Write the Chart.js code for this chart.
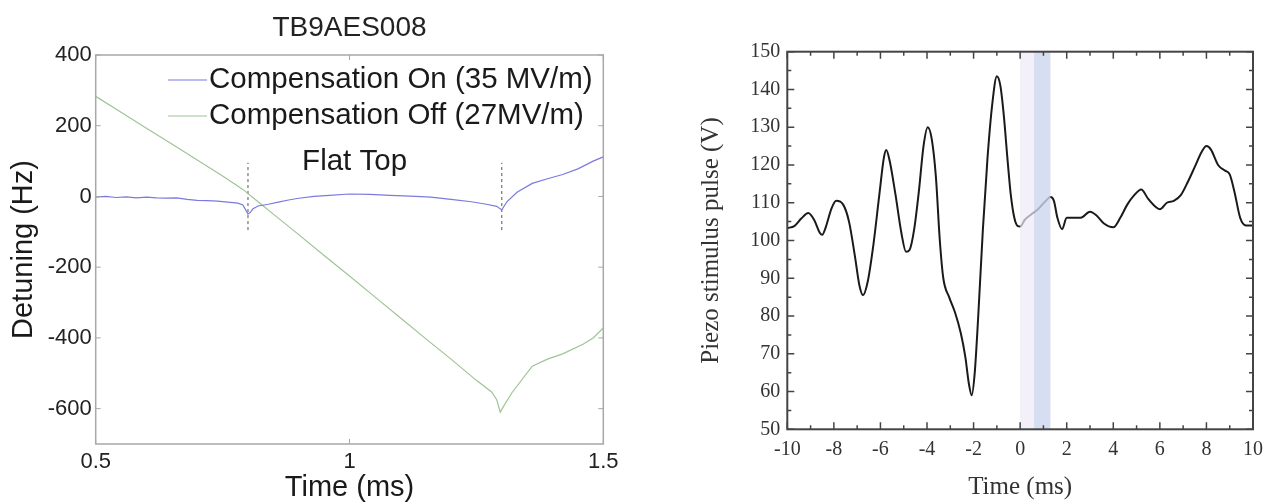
<!DOCTYPE html>
<html>
<head>
<meta charset="utf-8">
<title>Detuning and piezo stimulus pulse</title>
<script src="https://cdn.jsdelivr.net/npm/chart.js@4.4.1/dist/chart.umd.min.js"></script>
<style>
  html, body { margin: 0; padding: 0; background: #fff; }
  #wrap { width: 1271px; height: 504px; display: flex; }
  canvas { display: block; }
</style>
</head>
<body>
<div id="wrap">
  <canvas id="detuningChart" width="640" height="504"></canvas>
  <canvas id="piezoChart" width="631" height="504"></canvas>
</div>
<script>
// left panel: cavity detuning (Hz) vs time (ms)
var compOnTime = [0.50, 0.52, 0.54, 0.56, 0.58, 0.60, 0.62, 0.64, 0.66, 0.68, 0.70, 0.72, 0.74, 0.76, 0.78, 0.79,
  0.80, 0.805, 0.81, 0.82, 0.84, 0.86, 0.88, 0.90, 0.93, 0.96, 1.00, 1.04, 1.08, 1.12, 1.16, 1.20, 1.24, 1.27,
  1.29, 1.30, 1.31, 1.33, 1.36, 1.39, 1.42, 1.45, 1.48, 1.50];
var compOnHz = [-2, 0, -3, -1, -4, -2, -4, -5, -4, -8, -11, -12, -13, -16, -19, -24,
  -50, -44, -35, -27, -22, -16, -10, -5, 0, 3, 7, 6, 3, 1, -2, -8, -15, -22,
  -28, -38, -15, 12, 37, 50, 62, 78, 100, 112];
var compOffTime = [0.50, 0.55, 0.60, 0.65, 0.70, 0.75, 0.79, 0.80, 0.82, 0.85, 0.90, 0.95, 1.00, 1.05, 1.10,
  1.15, 1.20, 1.25, 1.28, 1.29, 1.297, 1.305, 1.32, 1.36, 1.39, 1.42, 1.46, 1.48, 1.50];
var compOffHz = [283, 238, 193, 148, 103, 58, 20, 8, -15, -50, -108, -167, -225, -284, -343,
  -402, -460, -520, -553, -575, -610, -590, -555, -480, -460, -445, -418, -400, -372];
var flatTopEdges = [0.8, 1.3];
var flatTopMarkerHz = [-95, 95];
var flatTopLabelAt = [1.01, 97];
var detuningTimeTicks = [0.5, 1, 1.5];
var detuningHzTicks = [400, 200, 0, -200, -400, -600];

// right panel: piezo stimulus pulse (V) vs time (ms)
var piezoTime = [-10.0, -9.7, -9.4, -9.1, -8.85, -8.6, -8.5, -8.35, -8.1, -7.9, -7.6, -7.35, -7.1, -6.9, -6.75,
  -6.55, -6.3, -6.05, -5.85, -5.75, -5.6, -5.35, -5.1, -4.9, -4.75, -4.55, -4.35, -4.15, -3.97, -3.8, -3.62,
  -3.45, -3.3, -3.05, -2.8, -2.55, -2.35, -2.2, -2.08, -1.95, -1.8, -1.6, -1.4, -1.2, -1.0, -0.85, -0.7,
  -0.55, -0.4, -0.25, -0.1, 0.0, 0.2, 0.5, 0.8, 1.1, 1.3, 1.45, 1.6, 1.8, 2.0, 2.3, 2.6, 3.0, 3.3, 3.6,
  4.0, 4.3, 4.6, 4.9, 5.2, 5.5, 5.8, 6.0, 6.3, 6.6, 6.9, 7.2, 7.5, 7.8, 8.0, 8.2, 8.5, 8.8, 9.0, 9.2,
  9.45, 9.7, 10.0];
var piezoVolts = [103.3, 103.8, 105.8, 107.3, 105.5, 102, 101.5, 103.5, 108.5, 110.5, 109.5, 105, 96, 88, 85.5,
  89, 99, 112, 122, 124, 121, 112, 102, 97, 97.5, 103, 113, 125, 130, 127, 117,
  100, 90, 85, 81, 75.5, 69, 62, 59, 65, 80, 103, 122, 136, 143.5, 141, 133,
  122, 112, 106, 103.8, 103.7, 105.5, 107, 108.5, 110.5, 111.5, 110.5, 106, 103, 106, 106, 106, 107.6, 106.5, 104.5,
  103.5, 106, 109.5, 112, 113.5, 111, 109, 108.3, 110, 110.5, 112, 115.5, 119.5, 123.5, 125, 124, 120, 118.5, 117.5, 113,
  106, 104, 104];
var piezoTimeTicks = [-10, -8, -6, -4, -2, 0, 2, 4, 6, 8, 10];
var piezoVoltTicks = [50, 60, 70, 80, 90, 100, 110, 120, 130, 140, 150];
var rfPulseLight = [0, 0.6];
var rfPulseDark = [0.6, 1.3];

function toPoints(xs, ys) {
  return xs.map(function(x, i) { return {x: x, y: ys[i]}; });
}

function fixedTicks(values) {
  return function(scale) {
    scale.ticks = values.map(function(v) { return {value: v}; });
  };
}

// box frame with inward ticks on all four sides
var boxTicks = {
  id: 'boxTicks',
  afterDraw: function(chart, args, o) {
    var a = chart.chartArea, ctx = chart.ctx;
    var xs = chart.scales.x, ys = chart.scales.y;
    ctx.save();
    ctx.strokeStyle = o.color;
    ctx.lineWidth = o.tickWidth;
    ctx.beginPath();
    function xTick(v, len) {
      var px = xs.getPixelForValue(v);
      ctx.moveTo(px, a.bottom); ctx.lineTo(px, a.bottom - len);
      ctx.moveTo(px, a.top); ctx.lineTo(px, a.top + len);
    }
    function yTick(v, len) {
      var py = ys.getPixelForValue(v);
      ctx.moveTo(a.left, py); ctx.lineTo(a.left + len, py);
      ctx.moveTo(a.right, py); ctx.lineTo(a.right - len, py);
    }
    var v;
    if (o.xMinorStep) {
      for (v = xs.min; v <= xs.max + 1e-9; v += o.xMinorStep) xTick(v, o.minor);
    }
    if (o.yMinorStep) {
      for (v = ys.min; v <= ys.max + 1e-9; v += o.yMinorStep) yTick(v, o.minor);
    }
    xs.ticks.forEach(function(t) { xTick(t.value, o.major); });
    ys.ticks.forEach(function(t) { yTick(t.value, o.major); });
    ctx.stroke();
    ctx.lineWidth = o.frameWidth;
    ctx.strokeRect(a.left, a.top, a.right - a.left, a.bottom - a.top);
    ctx.restore();
  }
};

// legend drawn inside the plot, matlab style
var insetLegend = {
  id: 'insetLegend',
  afterDraw: function(chart, args, o) {
    var a = chart.chartArea, ctx = chart.ctx;
    ctx.save();
    ctx.font = o.font;
    ctx.textBaseline = 'middle';
    ctx.textAlign = 'left';
    o.items.forEach(function(idx, i) {
      var ds = chart.data.datasets[idx];
      var x = a.left + o.left;
      var y = a.top + o.top + i * o.rowGap;
      ctx.strokeStyle = ds.borderColor;
      ctx.lineWidth = 1.2;
      ctx.beginPath();
      ctx.moveTo(x - o.sample - 2, y);
      ctx.lineTo(x - 2, y);
      ctx.stroke();
      ctx.fillStyle = o.color;
      ctx.fillText(ds.label, x, y);
    });
    ctx.restore();
  }
};

// title centred over the plot box rather than the whole canvas
var boxTitle = {
  id: 'boxTitle',
  afterDraw: function(chart, args, o) {
    var a = chart.chartArea, ctx = chart.ctx;
    ctx.save();
    ctx.font = o.font;
    ctx.fillStyle = o.color;
    ctx.textAlign = 'center';
    ctx.textBaseline = 'middle';
    ctx.fillText(o.text, (a.left + a.right) / 2, o.y);
    ctx.restore();
  }
};

var flatTopText = {
  id: 'flatTopText',
  afterDatasetsDraw: function(chart, args, o) {
    var ctx = chart.ctx;
    ctx.save();
    ctx.font = o.font;
    ctx.fillStyle = o.color;
    ctx.textAlign = 'center';
    ctx.textBaseline = 'middle';
    ctx.fillText(o.text, chart.scales.x.getPixelForValue(flatTopLabelAt[0]),
      chart.scales.y.getPixelForValue(flatTopLabelAt[1]));
    ctx.restore();
  }
};

// shaded rf pulse window
var pulseBand = {
  id: 'pulseBand',
  afterDatasetsDraw: function(chart, args, o) {
    var a = chart.chartArea, ctx = chart.ctx, xs = chart.scales.x;
    ctx.save();
    [[rfPulseLight, o.light], [rfPulseDark, o.dark]].forEach(function(b) {
      var x0 = xs.getPixelForValue(b[0][0]), x1 = xs.getPixelForValue(b[0][1]);
      ctx.fillStyle = b[1];
      ctx.fillRect(x0, a.top, x1 - x0, a.bottom - a.top);
    });
    ctx.restore();
  }
};

var sans = "'Liberation Sans', Arial, sans-serif";
var serif = "'Liberation Serif', 'Times New Roman', serif";

var detuningChart = new Chart(document.getElementById('detuningChart'), {
  type: 'line',
  data: {
    datasets: [
      {
        label: 'Compensation On (35 MV/m)',
        data: toPoints(compOnTime, compOnHz),
        borderColor: 'rgb(122, 122, 222)',
        borderWidth: 1.2,
        pointRadius: 0
      },
      {
        label: 'Compensation Off (27MV/m)',
        data: toPoints(compOffTime, compOffHz),
        borderColor: 'rgb(160, 196, 150)',
        borderWidth: 1.2,
        pointRadius: 0
      },
      {
        label: 'flat top start',
        data: toPoints([flatTopEdges[0], flatTopEdges[0]], flatTopMarkerHz),
        borderColor: '#555',
        borderWidth: 1,
        borderDash: [3, 3],
        pointRadius: 0
      },
      {
        label: 'flat top end',
        data: toPoints([flatTopEdges[1], flatTopEdges[1]], flatTopMarkerHz),
        borderColor: '#555',
        borderWidth: 1,
        borderDash: [3, 3],
        pointRadius: 0
      }
    ]
  },
  options: {
    responsive: false,
    animation: false,
    devicePixelRatio: 1,
    layout: { padding: { left: 0, right: 36.7, top: 55, bottom: 0 } },
    plugins: {
      legend: { display: false },
      tooltip: { enabled: false },
      title: { display: false },
      boxTitle: { text: 'TB9AES008', font: '28px ' + sans, color: '#222', y: 28 },
      boxTicks: { color: '#a8a8a8', tickWidth: 1, frameWidth: 1.5, major: 5, minor: 0 },
      insetLegend: { items: [0, 1], font: '29.5px ' + sans, color: '#1a1a1a', left: 113.3, top: 25, rowGap: 36, sample: 39 },
      flatTopText: { text: 'Flat Top', font: '29.5px ' + sans, color: '#1a1a1a' }
    },
    scales: {
      x: {
        type: 'linear',
        min: 0.5,
        max: 1.5,
        afterBuildTicks: fixedTicks(detuningTimeTicks),
        afterFit: function(s) { s.height = 60; },
        grid: { display: false, drawTicks: false },
        border: { display: false },
        ticks: { color: '#222', padding: 5, font: { family: sans, size: 22 }, callback: function(v) { return String(v); } },
        title: { display: true, text: 'Time (ms)', color: '#1a1a1a', font: { family: sans, size: 29 }, padding: { top: 0, bottom: -1 } }
      },
      y: {
        type: 'linear',
        min: -700,
        max: 400,
        afterBuildTicks: fixedTicks(detuningHzTicks),
        afterFit: function(s) { s.width = 95.7; },
        grid: { display: false, drawTicks: false },
        border: { display: false },
        ticks: { color: '#222', padding: 4, font: { family: sans, size: 22 }, callback: function(v) { return String(v); } },
        title: { display: true, text: 'Detuning (Hz)', color: '#1a1a1a', font: { family: sans, size: 29 }, padding: { top: 7, bottom: 0 } }
      }
    }
  },
  plugins: [boxTicks, insetLegend, flatTopText, boxTitle]
});

var piezoChart = new Chart(document.getElementById('piezoChart'), {
  type: 'line',
  data: {
    datasets: [
      {
        label: 'Piezo stimulus pulse',
        data: toPoints(piezoTime, piezoVolts),
        borderColor: '#1a1a1a',
        borderWidth: 2,
        pointRadius: 0,
        cubicInterpolationMode: 'monotone'
      }
    ]
  },
  options: {
    responsive: false,
    animation: false,
    devicePixelRatio: 1,
    layout: { padding: { left: 0, right: 15.3, top: 51.7, bottom: 0 } },
    plugins: {
      legend: { display: false },
      tooltip: { enabled: false },
      boxTicks: { color: '#444', tickWidth: 1.5, frameWidth: 2, major: 7, minor: 4, xMinorStep: 1, yMinorStep: 5 },
      pulseBand: { light: 'rgba(238, 234, 247, 0.7)', dark: 'rgba(204, 214, 238, 0.8)' }
    },
    scales: {
      x: {
        type: 'linear',
        min: -10,
        max: 10,
        afterBuildTicks: fixedTicks(piezoTimeTicks),
        afterFit: function(s) { s.height = 74.7; },
        grid: { display: false, drawTicks: false },
        border: { display: false },
        ticks: { color: '#333', padding: 8, font: { family: serif, size: 20 } },
        title: { display: true, text: 'Time (ms)', color: '#333', font: { family: serif, size: 25 }, padding: { top: 0, bottom: 2 } }
      },
      y: {
        type: 'linear',
        min: 50,
        max: 150,
        afterBuildTicks: fixedTicks(piezoVoltTicks),
        afterFit: function(s) { s.width = 147.3; },
        grid: { display: false, drawTicks: false },
        border: { display: false },
        ticks: { color: '#333', padding: 7, font: { family: serif, size: 20 } },
        title: { display: true, text: 'Piezo stimulus pulse (V)', color: '#333', font: { family: serif, size: 25 }, padding: { top: 56, bottom: 0 } }
      }
    }
  },
  plugins: [pulseBand, boxTicks]
});
</script>
</body>
</html>
